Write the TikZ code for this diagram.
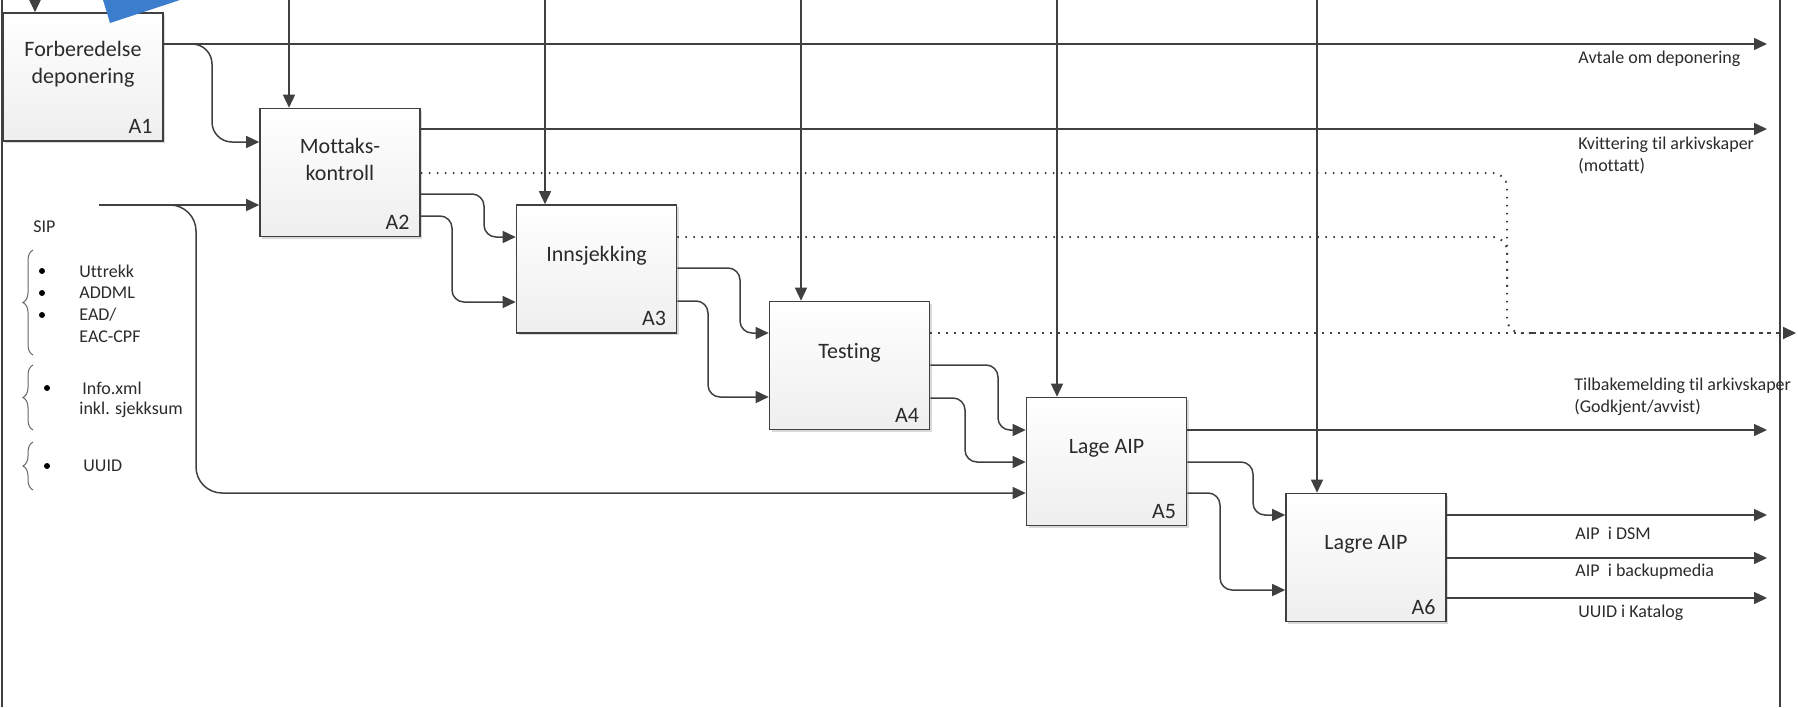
\documentclass[tikz,border=0pt]{standalone}
\usepackage{fontspec}
\setmainfont{Carlito}[Ligatures=NoCommon]
\usetikzlibrary{arrows.meta,calc,decorations.pathreplacing,shadows}
\definecolor{ln}{HTML}{404040}
\definecolor{tx}{HTML}{2B2B2B}
\definecolor{blueish}{RGB}{61,125,205}
\begin{document}
\begin{tikzpicture}[x=0.5pt,y=-0.5pt,
  procbox/.style={draw=ln, line width=0.8pt, top color=white, bottom color=gray!13,
    minimum width=80pt, minimum height=64pt, inner sep=0pt,
    drop shadow={shadow xshift=1pt,shadow yshift=-1pt,fill=black,opacity=0.15}},
  boxtext/.style={font=\fontsize{11}{13.5}\selectfont, text=tx, align=center, inner sep=0pt},
  idlabel/.style={font=\fontsize{11}{13}\selectfont, text=tx, anchor=base east, inner sep=0pt},
  arr/.style={draw=ln, line width=0.75pt, -{Triangle[length=6.5pt,width=6pt]}},
  flow/.style={arr, rounded corners=6pt},
  dotline/.style={draw=ln, line width=1pt, dash pattern=on 0.8pt off 3.2pt},
  dashline/.style={draw=ln, line width=1pt, dash pattern=on 2pt off 2.2pt},
  outlabel/.style={font=\fontsize{9}{11}\selectfont, text=tx, anchor=west, align=left, inner sep=0pt},
  listtext/.style={font=\fontsize{9}{11}\selectfont, text=tx, anchor=west, inner sep=0pt},
  bullet/.style={circle, fill=black, inner sep=0pt, minimum size=3pt},
  bracestyle/.style={draw=ln!80, line width=0.5pt, decorate, decoration={brace, amplitude=5pt}},
  framel/.style={draw=ln, line width=0.6pt}
]
\useasboundingbox (0,0) rectangle (1798,707);

% frame
\draw[framel] (2,0) -- (2,707);
\draw[framel] (1780,0) -- (1780,707);

% boxes
\node[procbox] (A1) at (83,77) {};
\node[procbox] (A2) at (340,172.5) {};
\node[procbox] (A3) at (596.5,269) {};
\node[procbox] (A4) at (849.5,365.5) {};
\node[procbox] (A5) at (1106.5,461.5) {};
\node[procbox] (A6) at (1366,557.5) {};

\node[boxtext] (A1t) at ([yshift=6.5pt]A1.center) {Forberedelse\\deponering};
\node[boxtext] (A2t) at ([yshift=6.5pt]A2.center) {Mottaks-\\kontroll};
\node[boxtext] (A3t) at ([yshift=6.5pt]A3.center) {Innsjekking};
\node[boxtext] (A4t) at ([yshift=6.5pt]A4.center) {Testing};
\node[boxtext] (A5t) at ([yshift=6.5pt]A5.center) {Lage AIP};
\node[boxtext] (A6t) at ([yshift=6.5pt]A6.center) {Lagre AIP};

\node[idlabel] (A1l) at ([xshift=-5.5pt,yshift=4pt]A1.south east) {A1};
\node[idlabel] (A2l) at ([xshift=-5.5pt,yshift=4pt]A2.south east) {A2};
\node[idlabel] (A3l) at ([xshift=-5.5pt,yshift=4pt]A3.south east) {A3};
\node[idlabel] (A4l) at ([xshift=-5.5pt,yshift=4pt]A4.south east) {A4};
\node[idlabel] (A5l) at ([xshift=-5.5pt,yshift=4pt]A5.south east) {A5};
\node[idlabel] (A6l) at ([xshift=-5.5pt,yshift=4pt]A6.south east) {A6};

% control arrows from top
\coordinate (t1) at (35,0);
\coordinate (t2) at (289,0);
\coordinate (t3) at (545,0);
\coordinate (t4) at (801,0);
\coordinate (t5) at (1057,0);
\coordinate (t6) at (1317,0);
\draw[arr] (t1) -- (t1 |- A1.north);
\draw[arr] (t2) -- (t2 |- A2.north);
\draw[arr] (t3) -- (t3 |- A3.north);
\draw[arr] (t4) -- (t4 |- A4.north);
\draw[arr] (t5) -- (t5 |- A5.north);
\draw[arr] (t6) -- (t6 |- A6.north);

% outputs to the right
\coordinate (e1) at (1767,44);
\coordinate (e2) at (1767,129);
\coordinate (e5) at (1767,430);
\coordinate (e6a) at (1767,515);
\coordinate (e6b) at (1767,558);
\coordinate (e6c) at (1767,598);
\draw[arr] (A1.east |- e1) -- (e1);
\draw[arr] (A2.east |- e2) -- (e2);
\draw[arr] (A5.east |- e5) -- (e5);
\draw[arr] (A6.east |- e6a) -- (e6a);
\draw[arr] (A6.east |- e6b) -- (e6b);
\draw[arr] (A6.east |- e6c) -- (e6c);

\node[outlabel] (L1) at (1578,59) {Avtale om deponering};
\node[outlabel] (L2) at (1578,155.5) {Kvittering til arkivskaper\\(mottatt)};
\node[outlabel] (L5) at (1574,396.5) {Tilbakemelding til arkivskaper\\(Godkjent/avvist)};
\node[outlabel] (L6a) at (1575,533) {AIP\ \ i DSM};
\node[outlabel] (L6b) at (1575,572) {AIP\ \ i backupmedia};
\node[outlabel] (L6c) at (1578,613) {UUID i Katalog};

% flows between boxes
\draw[arr, rounded corners=10pt] (A1.east |- 0,44) -- (212,44) -- (212,142) -- (A2.west |- 0,142);
\draw[flow] (A2.east |- 0,194) -- (484,194) -- (484,237) -- (A3.west |- 0,237);
\draw[flow] (A2.east |- 0,216) -- (452,216) -- (452,302) -- (A3.west |- 0,302);
\draw[flow] (A3.east |- 0,268) -- (740,268) -- (740,333) -- (A4.west |- 0,333);
\draw[flow] (A3.east |- 0,301) -- (708,301) -- (708,397) -- (A4.west |- 0,397);
\draw[flow] (A4.east |- 0,365) -- (998,365) -- (998,430) -- (A5.west |- 0,430);
\draw[flow] (A4.east |- 0,398) -- (965,398) -- (965,462) -- (A5.west |- 0,462);
\draw[flow] (A5.east |- 0,462) -- (1253,462) -- (1253,515) -- (A6.west |- 0,515);
\draw[flow] (A5.east |- 0,493) -- (1220,493) -- (1220,590) -- (A6.west |- 0,590);

% SIP input
\coordinate (sip) at (99,205);
\draw[arr] (sip) -- (A2.west |- sip);
\draw[arr, rounded corners=13pt] (sip) -- (196,205) -- (196,493) -- (A5.west |- 0,493);

% dotted flows
\coordinate (dm) at (1532,333);
\coordinate (dend) at (1796,333);
\draw[dotline, rounded corners=7pt] (A2.east |- 0,173) -- (1507,173) -- (1507,333) -- (dm);
\draw[dotline, rounded corners=7pt] (A3.east |- 0,237) -- (1507,237) -- (1507,290);
\draw[dotline] (A4.east |- dm) -- (dm);
\draw[dashline, -{Triangle[length=6.5pt,width=6pt]}] (dm) -- (dend);

% SIP list
\node[listtext] (sipt) at (33,227) {SIP};
\draw[bracestyle] (33,355) -- (33,250);
\draw[bracestyle] (33,430) -- (33,365);
\draw[bracestyle] (33,490) -- (33,442);
\node[bullet] (b1) at (42,271) {};
\node[bullet] (b2) at (42,293) {};
\node[bullet] (b3) at (42,315) {};
\node[bullet] (b4) at (47,388) {};
\node[bullet] (b5) at (47,466) {};
\node[listtext] (i1) at (79,271) {Uttrekk};
\node[listtext] (i2) at (79,293) {ADDML};
\node[listtext] (i3) at (79,315) {EAD/};
\node[listtext] (i4) at (79,337) {EAC-CPF};
\node[listtext] (i5) at (82,388) {Info.xml};
\node[listtext] (i6) at (79,410) {inkl. sjekksum};
\node[listtext] (i7) at (83,466) {UUID};

% blue fragment
\fill[blueish] (103,0) -- (180,0) -- (110,23) -- cycle;
\end{tikzpicture}
\end{document}
